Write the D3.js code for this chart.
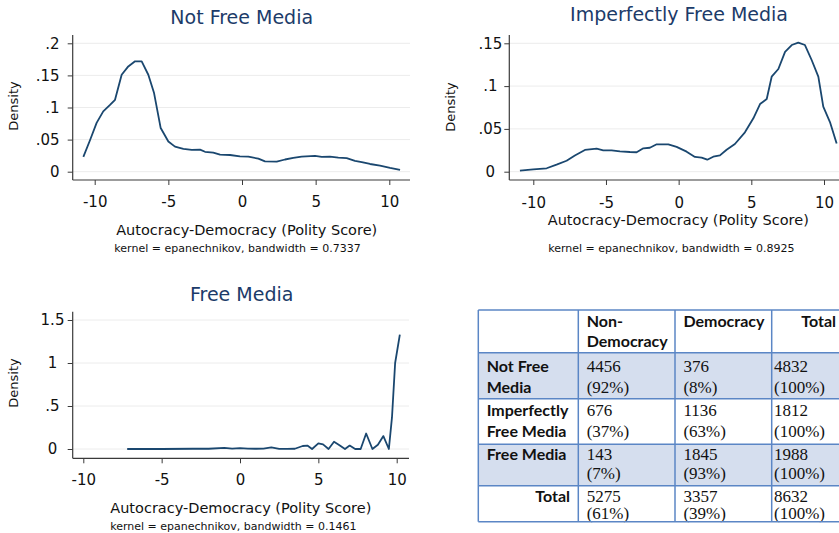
<!DOCTYPE html>
<html><head><meta charset="utf-8">
<script src="https://cdn.jsdelivr.net/npm/d3@7"></script>
<style>body{margin:0;background:#fff}svg{display:block}</style>
</head><body>
<svg id="c" width="839" height="533"></svg>
<script>
// ---------- DATA ----------
const xTickValues = [-10, -5, 0, 5, 10];
const xTickLabels = ["-10", "-5", "0", "5", "10"];
const xAxisTitle = "Autocracy-Democracy (Polity Score)";

const notFreeTitle = "Not Free Media";
const notFreeNote = "kernel = epanechnikov, bandwidth = 0.7337";
const notFreeYTicks = [0, 0.05, 0.1, 0.15, 0.2];
const notFreeYLabels = ["0", ".05", ".1", ".15", ".2"];
const notFreeX = [-10.77,-10.32,-9.87,-9.42,-8.96,-8.62,-8.17,-7.72,-7.26,-6.81,-6.36,-5.97,-5.52,-5.0,-4.55,-3.98,-3.41,-2.85,-2.51,-1.95,-1.49,-0.81,-0.14,0.43,1.11,1.56,2.36,2.92,3.48,4.05,4.96,5.41,5.97,6.54,7.11,7.67,8.13,8.69,9.37,10.05,10.73];
const notFreeY = [0.023,0.049,0.076,0.094,0.104,0.112,0.151,0.164,0.172,0.172,0.151,0.1225,0.068,0.047,0.039,0.0355,0.034,0.0344,0.031,0.0297,0.0266,0.026,0.024,0.0234,0.0203,0.016,0.0156,0.019,0.0214,0.0234,0.0245,0.023,0.0234,0.022,0.021,0.017,0.015,0.012,0.0094,0.0058,0.0027];

const imperfTitle = "Imperfectly Free Media";
const imperfNote = "kernel = epanechnikov, bandwidth = 0.8925";
const imperfYTicks = [0, 0.05, 0.1, 0.15];
const imperfYLabels = ["0", ".05", ".1", ".15"];
const imperfX = [-10.92,-10.0,-9.08,-8.4,-7.71,-7.14,-6.45,-5.64,-5.19,-4.61,-4.04,-3.35,-2.89,-2.43,-1.98,-1.51,-0.71,-0.14,0.55,1.12,1.58,1.97,2.38,2.84,3.3,3.87,4.56,5.14,5.6,6.06,6.4,6.86,7.32,7.78,8.23,8.69,9.15,9.61,9.95,10.41,10.87];
const imperfY = [0.0012,0.0028,0.004,0.0082,0.0128,0.019,0.0254,0.0269,0.025,0.025,0.0238,0.023,0.0227,0.0273,0.028,0.032,0.032,0.029,0.0234,0.0172,0.0164,0.014,0.0175,0.019,0.0257,0.0324,0.046,0.0624,0.079,0.085,0.111,0.12,0.14,0.148,0.1507,0.148,0.1305,0.111,0.076,0.058,0.033];

const freeTitle = "Free Media";
const freeNote = "kernel = epanechnikov, bandwidth = 0.1461";
const freeYTicks = [0, 0.5, 1, 1.5];
const freeYLabels = ["0", ".5", "1", "1.5"];
const freeX = [-7.2,-5,-3,-2,-1,-0.5,0,0.5,1,1.5,2,2.5,3,3.5,4,4.3,4.6,5,5.3,5.65,6,6.3,6.7,7,7.35,7.7,8.05,8.45,8.8,9.15,9.5,9.7,9.9,10.2];
const freeY = [0,0,0.003,0.003,0.012,0.005,0.01,0.005,0.003,0.005,0.018,0.002,0.002,0.003,0.035,0.04,0,0.066,0.054,0,0.085,0.05,0,0.04,0,0,0.18,0,0.05,0.15,0,0.37,1.0,1.33];

const tableColumns = [["Non-", "Democracy"], ["Democracy"], ["Total"]];
const tableRows = [["Not Free", "Media"], ["Imperfectly", "Free Media"], ["Free Media"], ["Total"]];
const counts = [[4456, 376, 4832], [676, 1136, 1812], [143, 1845, 1988], [5275, 3357, 8632]];
const percents = [[92, 8, 100], [37, 63, 100], [7, 93, 100], [61, 39, 100]];

// ---------- LAYOUT ----------
const svg = d3.select("#c");
svg.append("rect").attr("width", 839).attr("height", 533).attr("fill", "#fff");
const LINE = "#1a476f", TITLE = "#1c3b69", AXIS = "#3a3a3a", GRID = "#ececec";
const SANS = "DejaVu Sans, sans-serif";

const panels = [
  {title: notFreeTitle, note: notFreeNote, xs: notFreeX, ys: notFreeY, yt: notFreeYTicks, yl: notFreeYLabels,
   ydom: [0, 0.2], xr: [94.7, 389.3], yr: [171.7, 43.3], ax: 72.7, ay: 180, top: 35, right: 410,
   titleX: 241.7, titleY: 23.5, xtX: 246.7, xtY: 235, noteX: 237.5, noteY: 252, densX: 17.5, densY: 106,
   ylAnchor: "end", ylX: 59.5, xlPad: 11},
  {title: imperfTitle, note: imperfNote, xs: imperfX, ys: imperfY, yt: imperfYTicks, yl: imperfYLabels,
   ydom: [0, 0.15], xr: [533.3, 824], yr: [171.7, 43.3], ax: 509.3, ay: 180, top: 35, right: 880,
   titleX: 679, titleY: 21, xtX: 678.3, xtY: 225, noteX: 671.3, noteY: 251.5, densX: 454.5, densY: 107,
   ylAnchor: "middle", ylX: 490.3, xlPad: 12.5},
  {title: freeTitle, note: freeNote, xs: freeX, ys: freeY, yt: freeYTicks, yl: freeYLabels,
   ydom: [0, 1.5], xr: [83.3, 396.7], yr: [449, 320], ax: 72.7, ay: 458.3, top: 311.7, right: 409,
   titleX: 241.7, titleY: 301, xtX: 240.8, xtY: 512.5, noteX: 233.3, noteY: 529.5, densX: 17.5, densY: 383,
   ylAnchor: "middle", ylX: 52.5, xlPad: 11}
];

panels.forEach(p => {
  const x = d3.scaleLinear().domain([-10, 10]).range(p.xr);
  const y = d3.scaleLinear().domain(p.ydom).range(p.yr);
  const g = svg.append("g");

  // gridlines
  g.selectAll("line.grid").data(p.yt).join("line")
    .attr("x1", p.ax).attr("x2", p.right)
    .attr("y1", d => y(d)).attr("y2", d => y(d))
    .attr("stroke", GRID).attr("stroke-width", 1);

  // y axis
  const yAxis = d3.axisLeft(y).tickValues(p.yt).tickFormat((d, i) => p.yl[i]).tickSize(5).tickSizeOuter(0);
  const gy = g.append("g").attr("transform", `translate(${p.ax},0)`).call(yAxis);
  gy.select(".domain").remove();
  gy.selectAll(".tick line").attr("stroke", AXIS);
  gy.selectAll(".tick text").attr("font-family", SANS).attr("font-size", 15).attr("fill", "#111")
    .attr("text-anchor", p.ylAnchor).attr("x", p.ylX - p.ax);

  // x axis
  const xAxis = d3.axisBottom(x).tickValues(xTickValues).tickFormat((d, i) => xTickLabels[i]).tickSize(5).tickPadding(p.xlPad).tickSizeOuter(0);
  const gx = g.append("g").attr("transform", `translate(0,${p.ay})`).call(xAxis);
  gx.select(".domain").remove();
  gx.selectAll(".tick line").attr("stroke", AXIS);
  gx.selectAll(".tick text").attr("font-family", SANS).attr("font-size", 15).attr("fill", "#111");

  // axis lines
  g.append("line").attr("x1", p.ax).attr("x2", p.ax).attr("y1", p.top).attr("y2", p.ay).attr("stroke", AXIS).attr("stroke-width", 1.2);
  g.append("line").attr("x1", p.ax).attr("x2", p.right).attr("y1", p.ay).attr("y2", p.ay).attr("stroke", AXIS).attr("stroke-width", 1.2);

  // density curve
  const pts = p.xs.map((v, i) => [v, p.ys[i]]);
  g.append("path").datum(pts)
    .attr("d", d3.line().x(d => x(d[0])).y(d => y(d[1])))
    .attr("fill", "none").attr("stroke", LINE).attr("stroke-width", 1.8).attr("stroke-linejoin", "round");

  // texts
  g.append("text").attr("x", p.titleX).attr("y", p.titleY).attr("text-anchor", "middle")
    .attr("font-family", SANS).attr("font-size", 19).attr("fill", TITLE).text(p.title);
  g.append("text").attr("x", p.xtX).attr("y", p.xtY).attr("text-anchor", "middle")
    .attr("font-family", SANS).attr("font-size", 14.5).attr("fill", "#111").text(xAxisTitle);
  g.append("text").attr("x", p.noteX).attr("y", p.noteY).attr("text-anchor", "middle")
    .attr("font-family", SANS).attr("font-size", 11).attr("fill", "#111").text(p.note);
  g.append("text").attr("transform", `translate(${p.densX},${p.densY}) rotate(-90)`).attr("text-anchor", "middle")
    .attr("font-family", SANS).attr("font-size", 13).attr("fill", "#111").text("Density");
});

// ---------- TABLE ----------
const colX = [478.3, 578.3, 675, 771.7, 845];
const rowY = [310, 352.7, 398.7, 444.3, 485.7, 521.7];
const BORDER = "#5b86c5", SHADE = "#d5deee";
const BOLD = "Lato, sans-serif", SERIF = "Liberation Serif, serif";
const tg = svg.append("g");

// shading rows 1 and 3
[1, 3].forEach(r => {
  tg.append("rect").attr("x", colX[0]).attr("y", rowY[r]).attr("width", colX[4] - colX[0]).attr("height", rowY[r + 1] - rowY[r]).attr("fill", SHADE);
});

// header text
const hdrCenters = [321.7, 341.7];
tableColumns.forEach((lines, c) => {
  lines.forEach((t, k) => {
    const last = c === 2;
    tg.append("text").attr("x", last ? 836 : colX[c + 1] + 8.4).attr("y", hdrCenters[k] + 5.6)
      .attr("text-anchor", last ? "end" : "start")
      .attr("font-family", BOLD).attr("font-weight", 700).attr("font-size", 16).attr("fill", "#111").text(t);
  });
});

const lineOff = [[14, 34.5], [12, 32.5], [10, 29.5], [10.5, 28]];
tableRows.forEach((lines, r) => {
  const top = rowY[r + 1];
  const isTotal = r === 3;
  lines.forEach((t, k) => {
    tg.append("text").attr("x", isTotal ? 570 : colX[0] + 8.4).attr("y", top + lineOff[r][k] + 5.6)
      .attr("text-anchor", isTotal ? "end" : "start")
      .attr("font-family", BOLD).attr("font-weight", 700).attr("font-size", 16).attr("fill", "#111").text(t);
  });
  counts[r].forEach((v, c) => {
    const tx = c === 2 ? 774 : colX[c + 1] + 8.4;
    tg.append("text").attr("x", tx).attr("y", top + lineOff[r][0] + 5.5)
      .attr("font-family", SERIF).attr("font-size", 17).attr("fill", "#111").text(String(v));
    tg.append("text").attr("x", tx).attr("y", top + lineOff[r][1] + 5.5)
      .attr("font-family", SERIF).attr("font-size", 17).attr("fill", "#111").text(`(${percents[r][c]}%)`);
  });
});

// borders
colX.forEach(cx => tg.append("line").attr("x1", cx).attr("x2", cx).attr("y1", rowY[0]).attr("y2", rowY[5]).attr("stroke", BORDER).attr("stroke-width", 1.5));
rowY.forEach(ry => tg.append("line").attr("x1", colX[0]).attr("x2", colX[4]).attr("y1", ry).attr("y2", ry).attr("stroke", BORDER).attr("stroke-width", 1.5));
</script>
</body></html>
